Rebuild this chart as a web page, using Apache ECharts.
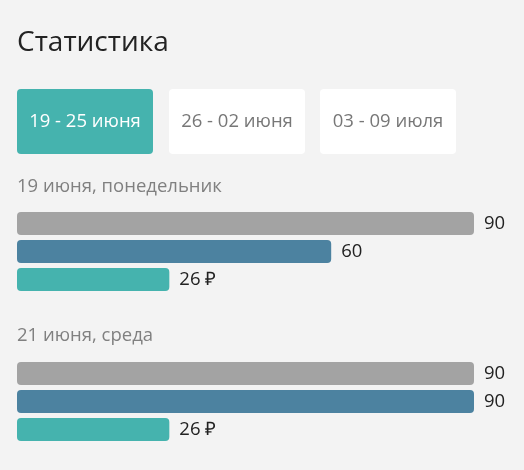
<!DOCTYPE html>
<html><head><meta charset="utf-8">
<script src="https://cdn.jsdelivr.net/npm/echarts@6/dist/echarts.min.js"></script>
<style>html,body{margin:0;padding:0;background:#f3f3f3}#c{width:524px;height:470px}</style>
</head><body><div id="c"></div>
<script>
const titleText = 'Статистика';
const weekTabs = ['19 - 25 июня', '26 - 02 июня', '03 - 09 июля'];
const days = ['19 июня, понедельник', '21 июня, среда'];
const metrics = ['a', 'b', 'c'];
const day1Values = [90, 60, 26];
const day2Values = [90, 90, 26];
const labelSuffix = ['', '', ' ₽'];

const colors = ['#a3a3a3', '#4c82a0', '#45b3ae'];
const FONT = '"Open Sans", sans-serif';
const chart = echarts.init(document.getElementById('c'), null, {renderer: 'canvas'});

const dayValues = [day1Values, day2Values];
const gridTops = [209.5, 359.5];
const grids = [], xAxes = [], yAxes = [], series = [], graphics = [];

graphics.push({type: 'text', x: 17, y: 43, style: {text: titleText, font: '28px ' + FONT, fill: '#222', verticalAlign: 'middle'}});
const tabX = [17, 169, 320];
weekTabs.forEach((t, i) => {
  graphics.push({type: 'rect', shape: {x: tabX[i], y: 89, width: 136, height: 65, r: 4},
    style: {fill: i === 0 ? '#45b3ae' : '#ffffff'}});
  graphics.push({type: 'text', x: tabX[i] + 68, y: 122,
    style: {text: t, font: '18.5px ' + FONT, fill: i === 0 ? '#ffffff' : '#777', align: 'center', verticalAlign: 'middle'}});
});
const subY = [186.5, 335.5];
days.forEach((d, i) => {
  graphics.push({type: 'text', x: 17, y: subY[i],
    style: {text: d, font: '18.5px ' + FONT, fill: '#808080', verticalAlign: 'middle'}});
});

dayValues.forEach((vals, g) => {
  grids.push({left: 17, width: 457, top: gridTops[g], height: 84, containLabel: false});
  xAxes.push({type: 'value', gridIndex: g, min: -6, max: 90, startValue: -6, show: false});
  yAxes.push({type: 'category', gridIndex: g, data: metrics, inverse: true, show: false});
  series.push({
    type: 'bar', xAxisIndex: g, yAxisIndex: g, barWidth: 23,
    data: vals.map((v, i) => ({value: v, itemStyle: {color: colors[i], borderRadius: 4}})),
    label: {show: true, position: 'right', distance: 10, color: '#222', fontFamily: FONT, fontSize: 18.5,
      formatter: p => p.value + labelSuffix[p.dataIndex]},
    silent: true, animation: false
  });
});

chart.setOption({
  backgroundColor: '#f3f3f3',
  animation: false,
  grid: grids, xAxis: xAxes, yAxis: yAxes, series: series, graphic: graphics
});
</script></body></html>
